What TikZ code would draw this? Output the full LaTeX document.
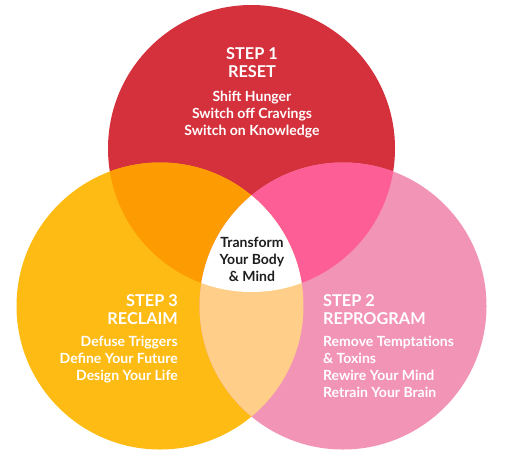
\documentclass[tikz,border=0pt]{standalone}
\usepackage{fontspec}
\setmainfont{Lato}
\usetikzlibrary{positioning}
\definecolor{resetred}{RGB}{212,49,60}
\definecolor{reclaimyellow}{RGB}{253,187,20}
\definecolor{reprogrampink}{RGB}{242,148,182}
\definecolor{overorange}{RGB}{253,155,2}
\definecolor{overpink}{RGB}{254,94,150}
\definecolor{overpeach}{RGB}{255,206,136}
\definecolor{centretext}{RGB}{30,30,30}

\begin{document}
\begin{tikzpicture}[
    x=1pt, y=-1pt,
    heading/.style={font=\fontsize{16.3}{18}\selectfont\bfseries, text=white,
                    inner sep=0pt},
    items/.style={font=\fontsize{14}{17}\selectfont\bfseries, text=white,
                  inner sep=0pt},
    centre/.style={font=\fontsize{14}{17}\selectfont\bfseries,
                   text=centretext, align=center, inner sep=0pt}
  ]
  \useasboundingbox (0,0) rectangle (508,456);
  \fill[white] (0,0) rectangle (508,456);

  % circle centres
  \coordinate (reset) at (251.5,148.5);
  \coordinate (reprogram) at (343,306);
  \coordinate (reclaim) at (160,306);
  \def\rad{143.5pt}

  % the three circles
  \fill[resetred] (reset) circle[radius=\rad];
  \fill[reclaimyellow] (reclaim) circle[radius=\rad];
  \fill[reprogrampink] (reprogram) circle[radius=\rad];

  % overlaps
  \begin{scope}
    \clip (reset) circle[radius=\rad];
    \fill[overorange] (reclaim) circle[radius=\rad];
    \fill[overpink] (reprogram) circle[radius=\rad];
  \end{scope}
  \begin{scope}
    \clip (reprogram) circle[radius=\rad];
    \fill[overpeach] (reclaim) circle[radius=\rad];
    \clip (reclaim) circle[radius=\rad];
    \fill[white] (reset) circle[radius=\rad];
  \end{scope}

  % Step 1
  \node[heading, align=center] (head1) at (252,63) {STEP 1\\RESET};
  \node[items, align=center, below=13pt of head1] (list1)
        {Shift Hunger\\Switch off Cravings\\Switch on Knowledge};

  % Step 2
  \node[heading, align=left, anchor=west] (head2) at (323,310)
        {STEP 2\\REPROGRAM};
  \node[items, align=left, below=11pt of head2.south west, anchor=north west] (list2)
        {Remove Temptations\\\& Toxins\\Rewire Your Mind\\Retrain Your Brain};

  % Step 3
  \node[heading, align=right, anchor=east] (head3) at (178,310)
        {STEP 3\\RECLAIM};
  \node[items, align=right, below=11pt of head3.south east, anchor=north east] (list3)
        {Defuse Triggers\\Define Your Future\\Design Your Life};

  % centre
  \node[centre] (core) at (252,259) {Transform\\Your Body\\\& Mind};
\end{tikzpicture}
\end{document}
